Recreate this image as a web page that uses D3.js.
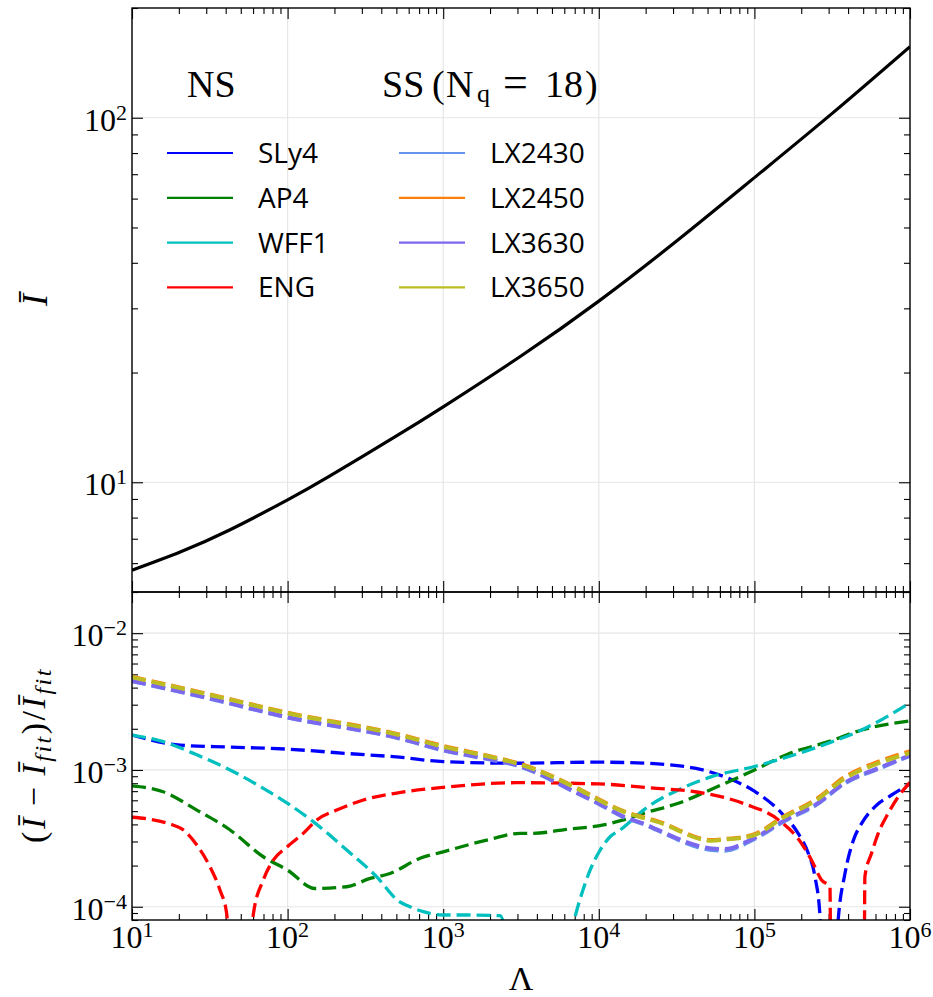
<!DOCTYPE html>
<html>
<head>
<meta charset="utf-8">
<script src="https://d3js.org/d3.v7.min.js"></script>
<style>
  body { margin: 0; background: #ffffff; }
  svg { display: block; }
</style>
</head>
<body>
<div id="chart"></div>
<script>

// ---- values ----

// upper panel: fitted I-bar against Lambda
var lamFit = [10, 20.4, 42.7, 100, 186, 501, 1000, 3162, 1e4, 31620, 1e5, 316200, 1e6];
var iFit   = [5.74, 6.44, 7.41, 8.95, 10.4, 13.4, 16.1, 22.2, 31.4, 45.9, 68.5, 102.8, 156.7];

// lower panel: relative deviation from the fit, NS
var lamSLy4 = [10, 20.4, 42.7, 100, 240, 522, 1000, 2950, 1e4, 1.98e4, 4.15e4, 6.79e4, 1e5, 1.50e5, 1.91e5, 2.22e5, 2.45e5, 2.64e5, 2.88e5, 3.47e5, 3.82e5, 4.33e5, 4.89e5, 5.96e5, 7.62e5, 1e6];
var devSLy4 = [1.80e-3, 1.52e-3, 1.47e-3, 1.42e-3, 1.32e-3, 1.24e-3, 1.15e-3, 1.12e-3, 1.14e-3, 1.12e-3, 1.03e-3, 8.7e-4, 7.0e-4, 4.82e-4, 3.44e-4, 2.46e-4, 1.66e-4, 8.5e-5, 1e-6, 8.5e-5, 1.75e-4, 3.07e-4, 4.07e-4, 5.40e-4, 6.56e-4, 7.9e-4];

var lamAP4 = [10, 15.85, 26.1, 42.7, 69.8, 100, 150, 240, 339, 455, 710, 1000, 1995, 3110, 3790, 6210, 10720, 14390, 19320, 32430, 53090, 1e5, 1.65e5, 2.99e5, 4.89e5, 1e6];
var devAP4 = [7.64e-4, 6.93e-4, 5.09e-4, 3.64e-4, 2.32e-4, 1.85e-4, 1.36e-4, 1.40e-4, 1.61e-4, 1.75e-4, 2.26e-4, 2.52e-4, 3.11e-4, 3.44e-4, 3.44e-4, 3.68e-4, 3.96e-4, 4.31e-4, 4.82e-4, 5.71e-4, 7.23e-4, 1.0e-3, 1.31e-3, 1.61e-3, 1.96e-3, 2.28e-3];

var lamWFF1 = [10, 15.85, 26.1, 42.7, 69.8, 100, 146, 240, 373, 522, 612, 745, 1000, 1560, 2323, 2630, 3980, 6310, 7047, 7780, 8790, 10210, 11830, 13710, 15880, 19360, 32430, 53090, 1e5, 1.65e5, 2.99e5, 4.89e5, 1e6];
var devWFF1 = [1.80e-3, 1.61e-3, 1.29e-3, 1.0e-3, 7.34e-4, 5.7e-4, 4.19e-4, 2.6e-4, 1.66e-4, 1.09e-4, 1.0e-4, 9.2e-5, 8.7e-5, 8.7e-5, 8.6e-5, 5e-5, 1e-6, 5e-5, 8.5e-5, 1.25e-4, 1.85e-4, 2.6e-4, 3.25e-4, 3.64e-4, 4.19e-4, 5.09e-4, 7.14e-4, 8.93e-4, 1.06e-3, 1.25e-3, 1.57e-3, 1.96e-3, 3.1e-3];

var lamENG = [10, 13.1, 17.5, 21.4, 26.1, 31.7, 36.8, 40.6, 49.4, 60.3, 69.8, 80.9, 99.5, 126, 154, 207, 307, 522, 1000, 2950, 1e4, 2.36e4, 4.15e4, 8.69e4, 1.43e5, 2.01e5, 2.33e5, 2.70e5, 3.06e5, 3.14e5, 5.01e5, 5.13e5, 5.66e5, 6.25e5, 7.24e5, 8.41e5, 1e6];
var devENG = [4.51e-4, 4.36e-4, 4.03e-4, 3.64e-4, 2.83e-4, 1.96e-4, 1.32e-4, 8.9e-5, 1e-6, 8.9e-5, 1.57e-4, 2.19e-4, 2.75e-4, 3.44e-4, 4.31e-4, 5.09e-4, 6.03e-4, 6.83e-4, 7.46e-4, 8.07e-4, 7.9e-4, 7.34e-4, 6.93e-4, 5.64e-4, 4.31e-4, 2.90e-4, 2.19e-4, 1.57e-4, 1.40e-4, 1e-6, 1e-6, 1.66e-4, 2.46e-4, 3.44e-4, 4.82e-4, 6.38e-4, 8.1e-4];

// lower panel: SS with N_q = 18 (all share the same Lambda samples)
var lamSS = [10, 31.6, 100, 522, 1000, 1995, 2951, 7211, 1e4, 14390, 19820, 23550, 53090, 64710, 95940, 157400, 251200, 382100, 626600, 1e6];
var devLX2430 = [4.46e-3, 3.32e-3, 2.42e-3, 1.70e-3, 1.39e-3, 1.19e-3, 1.08e-3, 6.78e-4, 5.65e-4, 4.52e-4, 3.98e-4, 3.64e-4, 2.60e-4, 2.57e-4, 3.05e-4, 4.25e-4, 5.58e-4, 8.0e-4, 1.02e-3, 1.27e-3];
var devLX2450 = [4.80e-3, 3.57e-3, 2.62e-3, 1.82e-3, 1.50e-3, 1.26e-3, 1.13e-3, 7.40e-4, 6.10e-4, 5.00e-4, 4.48e-4, 4.24e-4, 3.07e-4, 3.13e-4, 3.33e-4, 4.63e-4, 6.15e-4, 8.90e-4, 1.15e-3, 1.37e-3];
var devLX3630 = [4.48e-3, 3.34e-3, 2.43e-3, 1.71e-3, 1.40e-3, 1.20e-3, 1.09e-3, 6.83e-4, 5.7e-4, 4.56e-4, 4.02e-4, 3.68e-4, 2.67e-4, 2.64e-4, 3.11e-4, 4.31e-4, 5.64e-4, 8.08e-4, 1.03e-3, 1.28e-3];
var devLX3650 = [4.76e-3, 3.54e-3, 2.60e-3, 1.80e-3, 1.48e-3, 1.25e-3, 1.12e-3, 7.34e-4, 6.03e-4, 4.95e-4, 4.43e-4, 4.19e-4, 3.04e-4, 3.10e-4, 3.29e-4, 4.56e-4, 6.03e-4, 8.69e-4, 1.12e-3, 1.33e-3];

// legend names
var nsNames = ["SLy4", "AP4", "WFF1", "ENG"];
var ssNames = ["LX2430", "LX2450", "LX3630", "LX3650"];

// tick labels (10 to the power ...)
var xTickVals = [1e1, 1e2, 1e3, 1e4, 1e5, 1e6];
var xTickExp  = ["1", "2", "3", "4", "5", "6"];
var yTopTickVals = [1e1, 1e2];
var yTopTickExp  = ["1", "2"];
var yBotTickVals = [1e-4, 1e-3, 1e-2];
var yBotTickExp  = ["\u22124", "\u22123", "\u22122"];


// ---- layout ----
var svgW = 933, svgH = 997;
var left = 132, right = 910;
var topY = 8, midY = 592, botY = 920;
var serif = "'Liberation Serif', 'DejaVu Serif', serif";
var sans = "'Open Sans', 'Noto Sans', sans-serif";

var svg = d3.select("#chart").append("svg")
            .attr("width", svgW)
            .attr("height", svgH);

// Scales
var xScale = d3.scaleLog().domain([1e1, 1e6]).range([left, right]);
var yTop = d3.scaleLog().domain([5, 200]).range([midY, topY]);
var yBot = d3.scaleLog().domain([8e-5, 2e-2]).range([botY, midY]);

// Clip areas for both panels
var defs = svg.append("defs");
defs.append("clipPath").attr("id", "clipTop")
    .append("rect").attr("x", left).attr("y", topY).attr("width", right - left).attr("height", midY - topY);
defs.append("clipPath").attr("id", "clipBot")
    .append("rect").attr("x", left).attr("y", midY).attr("width", right - left).attr("height", botY - midY);


// split log ticks into decades and the rest
function splitTicks(scale) {
  var major = [], minor = [];
  scale.ticks().forEach(function (t) {
    var e = Math.log10(t);
    if (Math.abs(e - Math.round(e)) < 1e-6) major.push(t);
    else minor.push(t);
  });
  return [major, minor];
}


function drawPanel(yScale, y0, y1, clipId) {

  var xt = splitTicks(xScale);
  var yt = splitTicks(yScale);

  // grid at the decades
  var grid = svg.append("g").attr("stroke", "#e6e6e6").attr("stroke-width", 1.2);
  xt[0].forEach(function (t) {
    grid.append("line").attr("x1", xScale(t)).attr("x2", xScale(t)).attr("y1", y0).attr("y2", y1);
  });
  yt[0].forEach(function (t) {
    grid.append("line").attr("x1", left).attr("x2", right).attr("y1", yScale(t)).attr("y2", yScale(t));
  });

  // inward ticks on all four sides
  var sides = [
    [d3.axisBottom, xScale, xt, "translate(0," + y1 + ")"],
    [d3.axisTop, xScale, xt, "translate(0," + y0 + ")"],
    [d3.axisLeft, yScale, yt, "translate(" + left + ",0)"],
    [d3.axisRight, yScale, yt, "translate(" + right + ",0)"]
  ];
  sides.forEach(function (s) {
    [[s[2][0], 11], [s[2][1], 6]].forEach(function (set) {
      svg.append("g")
         .attr("transform", s[3])
         .call(s[0](s[1]).tickValues(set[0]).tickSize(-set[1]).tickFormat(""))
         .call(function (g) { g.select(".domain").remove(); })
         .selectAll("line").attr("stroke", "#000").attr("stroke-width", 1.1);
    });
  });

  return svg.append("g").attr("clip-path", "url(#" + clipId + ")");
}


// tick labels written as 10 with a raised exponent
function yTickLabels(scale, vals, exps) {
  vals.forEach(function (v, i) {
    var t = svg.append("text")
               .attr("x", 127)
               .attr("y", scale(v) + 13)
               .attr("text-anchor", "end")
               .style("font-family", serif)
               .style("font-size", "32px");
    t.append("tspan").text("10");
    t.append("tspan").attr("dy", -11).style("font-size", "22px").text(exps[i]);
  });
}


// ---- upper panel ----
var topArea = drawPanel(yTop, topY, midY, "clipTop");

var fitLine = d3.line()
                .x(function (d) { return xScale(d[0]); })
                .y(function (d) { return yTop(d[1]); })
                .curve(d3.curveNatural);

topArea.append("path")
       .datum(d3.zip(lamFit, iFit))
       .attr("d", fitLine)
       .attr("fill", "none")
       .attr("stroke", "#000")
       .attr("stroke-width", 3.2);

yTickLabels(yTop, yTopTickVals, yTopTickExp);


// ---- lower panel ----
var botArea = drawPanel(yBot, midY, botY, "clipBot");

var devLine = d3.line()
                .x(function (d) { return xScale(d[0]); })
                .y(function (d) { return yBot(d[1]); })
                .curve(d3.curveMonotoneX);

var series = [
  {lam: lamSLy4, dev: devSLy4, color: "#0000ff", width: 3.3},
  {lam: lamAP4,  dev: devAP4,  color: "#008000", width: 3.3},
  {lam: lamWFF1, dev: devWFF1, color: "#00bfbf", width: 3.3},
  {lam: lamENG,  dev: devENG,  color: "#ff0000", width: 3.3},
  {lam: lamSS, dev: devLX2430, color: "#6495ed", width: 4},
  {lam: lamSS, dev: devLX2450, color: "#ff7f0e", width: 4},
  {lam: lamSS, dev: devLX3630, color: "#7b68ee", width: 4},
  {lam: lamSS, dev: devLX3650, color: "#bcbd22", width: 4}
];

series.forEach(function (s) {
  botArea.append("path")
         .datum(d3.zip(s.lam, s.dev))
         .attr("d", devLine)
         .attr("fill", "none")
         .attr("stroke", s.color)
         .attr("stroke-width", s.width)
         .attr("stroke-dasharray", "14,6");
});

yTickLabels(yBot, yBotTickVals, yBotTickExp);

// x tick labels under the lower panel
xTickVals.forEach(function (v, i) {
  var t = svg.append("text")
             .attr("x", xScale(v))
             .attr("y", 948)
             .attr("text-anchor", "middle")
             .style("font-family", serif)
             .style("font-size", "32px");
  t.append("tspan").text("10");
  t.append("tspan").attr("dy", -11).style("font-size", "22px").text(xTickExp[i]);
});


// ---- frames ----
[[topY, midY], [midY, botY]].forEach(function (p) {
  svg.append("rect")
     .attr("x", left).attr("y", p[0])
     .attr("width", right - left).attr("height", p[1] - p[0])
     .attr("fill", "none")
     .attr("stroke", "#000")
     .attr("stroke-width", 1.4);
});


// ---- axis labels ----
svg.append("text")
   .attr("transform", "translate(521,990)")
   .attr("text-anchor", "middle")
   .style("font-family", serif)
   .style("font-size", "34px")
   .text("\u039b");

svg.append("text")
   .attr("transform", "translate(47,300) rotate(-90)")
   .attr("text-anchor", "middle")
   .style("font-family", serif)
   .style("font-style", "italic")
   .style("font-size", "36px")
   .text("\u012a");

var yLab = svg.append("text")
              .attr("transform", "translate(45,755) rotate(-90)")
              .attr("text-anchor", "middle")
              .style("font-family", serif)
              .style("font-size", "34px")
              .style("letter-spacing", "2.5px");
yLab.append("tspan").text("(");
yLab.append("tspan").style("font-style", "italic").text("\u012a");
yLab.append("tspan").attr("dx", 9).text("\u2212");
yLab.append("tspan").attr("dx", 9).style("font-style", "italic").text("\u012a");
yLab.append("tspan").attr("dy", 6).style("font-style", "italic").style("font-size", "24px").text("fit");
yLab.append("tspan").attr("dy", -6).text(")/");
yLab.append("tspan").style("font-style", "italic").text("\u012a");
yLab.append("tspan").attr("dy", 6).style("font-style", "italic").style("font-size", "24px").text("fit");


// ---- legend ----
var nsColors = ["#0000ff", "#008000", "#00bfbf", "#ff0000"];
var ssColors = ["#6495ed", "#ff7f0e", "#7b68ee", "#bcbd22"];

svg.append("text")
   .attr("x", 187).attr("y", 97)
   .style("font-family", serif)
   .style("font-size", "38px")
   .text("NS");

var ssTitle = svg.append("text")
                 .attr("y", 97)
                 .style("font-family", serif)
                 .style("font-size", "38px");
ssTitle.append("tspan").attr("x", 382).text("SS");
ssTitle.append("tspan").attr("x", 432).text("(");
ssTitle.append("tspan").attr("x", 446).text("N");
ssTitle.append("tspan").attr("x", 477).attr("dy", 5).style("font-size", "26px").text("q");
ssTitle.append("tspan").attr("x", 503).attr("dy", -5).style("font-size", "44px").text("=");
ssTitle.append("tspan").attr("x", 545).text("18");
ssTitle.append("tspan").attr("x", 585).text(")");

function legendColumn(names, colors, x0) {
  names.forEach(function (n, i) {
    var y = 153 + i * 44.8;
    svg.append("line")
       .attr("x1", x0).attr("x2", x0 + 66)
       .attr("y1", y).attr("y2", y)
       .attr("stroke", colors[i])
       .attr("stroke-width", 2.2);
    svg.append("text")
       .attr("x", x0 + 91).attr("y", y + 10)
       .style("font-family", sans)
       .style("font-size", "28px")
       .text(n);
  });
}
legendColumn(nsNames, nsColors, 167);
legendColumn(ssNames, ssColors, 399);

</script>
</body>
</html>
